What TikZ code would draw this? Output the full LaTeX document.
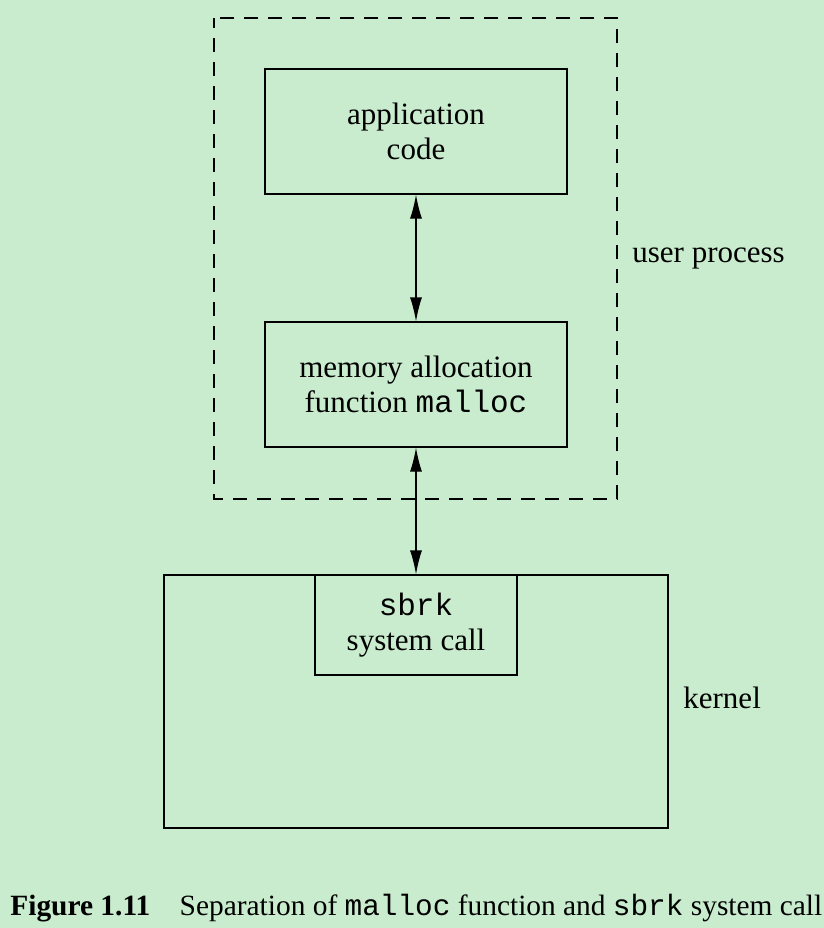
\documentclass[tikz,border=0pt]{standalone}
\usepackage{fontspec}
\setmainfont{Liberation Serif}
\setmonofont{Liberation Mono}
\usetikzlibrary{positioning,calc,arrows.meta}
\definecolor{pageGreen}{RGB}{200,236,205}
\tikzstyle{box}      = [draw, line width=0.6pt, inner sep=0pt, align=center]
\tikzstyle{callFlow} = [line width=0.6pt, {Latex[length=12pt,width=6pt]}-{Latex[length=12pt,width=6pt]}]
\tikzset{
  x=0.5pt, y=-0.5pt,
  every node/.style={font=\fontsize{15.5pt}{17.5pt}\selectfont},
  procbox/.style={box, minimum width=151pt, minimum height=62.5pt}
}
\begin{document}
\begin{tikzpicture}
			\fill[pageGreen] (0,0) rectangle (824,928);
			\useasboundingbox (0,0) rectangle (824,928);
			\draw[line width=0.6pt, dash pattern=on 7pt off 5pt, dash phase=2pt] (214,18) rectangle (617,499);
			\node[procbox]  (app)    at (416,131.5) {application\\code};
			\node[procbox]  (malloc) at (416,384.5) {memory allocation\\function \texttt{malloc}};
			\node[box, minimum width=252pt, minimum height=126.5pt] (kernel) at (416,701.5) {};
			\node[box, minimum width=101pt, minimum height=50pt, anchor=north] (sbrk) at (kernel.north) {\texttt{sbrk}\\system call};
			\node[anchor=west, inner sep=0pt] (user)  at (632,258) {user process};
			\node[anchor=west, inner sep=0pt] (kname) at (683,698) {kernel};
			\draw[callFlow] (app) -- (malloc);
			\draw[callFlow] (malloc) -- (sbrk);
			\node[anchor=base west, inner sep=0pt, font=\fontsize{14.7pt}{17.5pt}\selectfont] (caption) at (10,915) {\textbf{Figure 1.11}\hspace{1em}Separation of \texttt{malloc} function and \texttt{sbrk} system call};
		\end{tikzpicture}
\end{document}
